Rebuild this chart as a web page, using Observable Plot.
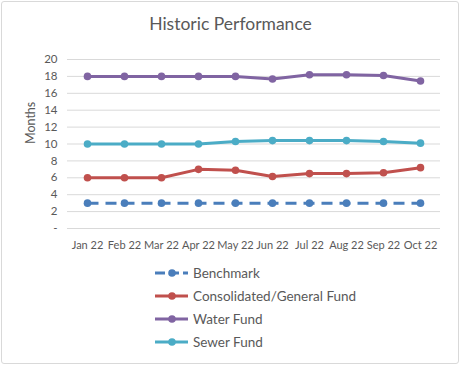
<!DOCTYPE html>
<html>
<head>
<meta charset="utf-8">
<script src="https://cdn.jsdelivr.net/npm/d3@7"></script>
<script src="https://cdn.jsdelivr.net/npm/@observablehq/plot@0.6"></script>
<style>
  html, body { margin: 0; padding: 0; background: #fff; }
  body { width: 461px; height: 366px; position: relative; overflow: hidden; font-family: Lato, "Open Sans", sans-serif; }
  #frame { position: absolute; left: 1px; top: 1px; width: 456px; height: 361px; border: 1px solid #d9d9d9; border-radius: 3px; }
  #title { position: absolute; left: 0; top: 13px; width: 461px; text-align: center; font-size: 17.5px; color: #595959; }
  #chart { position: absolute; left: 0; top: 45px; }
  #legend { position: absolute; left: 155px; top: 261px; }
  .item { display: flex; align-items: center; height: 23px; font-size: 13.5px; color: #595959; }
  .item svg { margin-right: 5px; }
</style>
</head>
<body>
<div id="frame"></div>
<div id="title">Historic Performance</div>
<div id="chart"></div>
<div id="legend"></div>
<script>
const months = ["Jan 22","Feb 22","Mar 22","Apr 22","May 22","Jun 22","Jul 22","Aug 22","Sep 22","Oct 22"];
const benchmark = [3,3,3,3,3,3,3,3,3,3];
const consolidated = [6.0,6.0,6.0,7.0,6.9,6.15,6.5,6.5,6.6,7.2];
const water = [18,18,18,18,18,17.7,18.2,18.2,18.1,17.45];
const sewer = [10,10,10,10,10.3,10.4,10.4,10.4,10.3,10.1];
const seriesNames = ["Benchmark","Consolidated/General Fund","Water Fund","Sewer Fund"];
const seriesColors = ["#4a7ebb","#c0504d","#8064a2","#4bacc6"];
const yTicks = [0,2,4,6,8,10,12,14,16,18,20];

const seriesValues = [benchmark, consolidated, water, sewer];
const data = [];
seriesNames.forEach((s, i) => months.forEach((m, j) => data.push({series: s, month: m, value: seriesValues[i][j]})));
const colorOf = Object.fromEntries(seriesNames.map((s, i) => [s, seriesColors[i]]));

const marks = [
  Plot.ruleY(yTicks, {stroke: "#d9d9d9", strokeWidth: 1}),
  Plot.axisY(yTicks, {tickSize: 0, tickPadding: 10, tickFormat: d => d === 0 ? "-" : d, label: null, fill: "#595959", fontSize: 11.5}),
  Plot.axisX({tickSize: 0, tickPadding: 13, label: null, fill: "#595959", fontSize: 11}),
  Plot.text(["Months"], {frameAnchor: "left", dx: -37, rotate: -90, fill: "#595959", fontSize: 12.5})
];
for (const s of seriesNames) {
  const d = data.filter(r => r.series === s);
  marks.push(Plot.line(d, {x: "month", y: "value", stroke: colorOf[s], strokeWidth: 3, curve: "linear",
    strokeDasharray: s === "Benchmark" ? "11,7" : null, strokeLinecap: s === "Benchmark" ? "butt" : "round"}));
  marks.push(Plot.dot(d, {x: "month", y: "value", fill: colorOf[s], r: 3.8, stroke: "none"}));
}

const chart = Plot.plot({
  width: 461,
  height: 210,
  marginTop: 14,
  marginBottom: 27,
  marginLeft: 67,
  marginRight: 21,
  style: {fontFamily: "Lato, 'Open Sans', sans-serif", fontSize: "11px", color: "#595959", background: "transparent"},
  x: {type: "point", domain: months, padding: 0.5},
  y: {domain: [0, 20]},
  marks
});
document.getElementById("chart").appendChild(chart);

const legend = document.getElementById("legend");
seriesNames.forEach((s, i) => {
  const div = document.createElement("div");
  div.className = "item";
  const dash = s === "Benchmark" ? ' stroke-dasharray="10,4"' : '';
  div.innerHTML = `<svg width="33" height="10"><line x1="0" y1="5" x2="33" y2="5" stroke="${seriesColors[i]}" stroke-width="3"${dash}/><circle cx="17" cy="5" r="3.8" fill="${seriesColors[i]}"/></svg><span>${s}</span>`;
  legend.appendChild(div);
});
</script>
</body>
</html>
